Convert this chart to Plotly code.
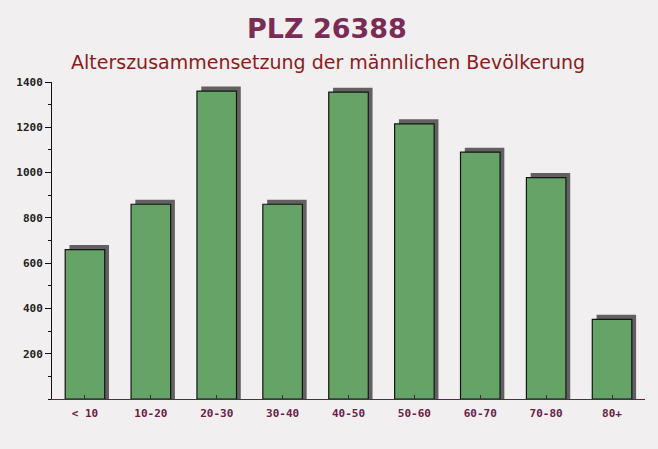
import plotly.graph_objects as go

# age groups and male population counts
age_groups = ["< 10", "10-20", "20-30", "30-40", "40-50", "50-60", "60-70", "70-80", "80+"]
males = [660, 860, 1360, 860, 1355, 1215, 1090, 978, 352]
y_ticks = [200, 400, 600, 800, 1000, 1200, 1400]

pos = list(range(len(age_groups)))

W, H = 658, 449
M_L, M_R, M_T, M_B = 52, 13, 82, 50
plot_h = H - M_T - M_B
plot_w = W - M_L - M_R


def py(pix):
    # pixel row -> paper y
    return (H - M_B - pix) / plot_h


def px_(pix):
    # pixel column -> paper x
    return (pix - M_L) / plot_w


fig = go.Figure()

# shadow behind the bars (3d look)
fig.add_trace(go.Bar(
    x=pos, y=[v + 20 for v in males],
    width=0.6, offset=-0.3 + 0.065,
    marker=dict(color="#626061", line=dict(width=0)),
    hoverinfo="skip", showlegend=False,
))

fig.add_trace(go.Bar(
    x=pos, y=males,
    width=0.6, offset=-0.3,
    marker=dict(color="#66a366", line=dict(color="#151515", width=1.2)),
    showlegend=False,
))

fig.update_layout(
    width=W, height=H,
    margin=dict(l=M_L, r=M_R, t=M_T, b=M_B),
    paper_bgcolor="#f2eff0",
    plot_bgcolor="rgba(0,0,0,0)",
    barmode="overlay",
    annotations=[
        dict(text="<b>PLZ 26388</b>", x=px_(327), y=py(29), xref="paper", yref="paper",
             yanchor="middle", showarrow=False,
             font=dict(family="DejaVu Sans", size=27, color="#7b2c55")),
        dict(text="Alterszusammensetzung der männlichen Bevölkerung", x=px_(328), y=py(62),
             xref="paper", yref="paper", yanchor="middle", showarrow=False,
             font=dict(family="DejaVu Sans", size=19, color="#8b1c1c")),
    ],
)

fig.update_xaxes(
    range=[-0.5, 8.5],
    tickmode="array", tickvals=pos, ticktext=["<b>%s</b>" % t for t in age_groups],
    showgrid=False, zeroline=False,
    showline=True, linecolor="#6b2048", linewidth=1,
    ticks="inside", tickson="boundaries", ticklen=4, tickcolor="#333333",
    ticklabelstandoff=4,
    tickfont=dict(family="DejaVu Sans Mono", size=11, color="#6b2048"),
)
fig.update_yaxes(
    range=[0, 1400],
    tickmode="array", tickvals=y_ticks,
    ticktext=["<b>%d</b>" % t for t in y_ticks],
    showgrid=False, zeroline=False,
    showline=True, linecolor="#111111", linewidth=1,
    ticks="outside", ticklen=6, tickcolor="#111111",
    minor=dict(dtick=100, ticks="outside", ticklen=3, tickcolor="#111111"),
    tickfont=dict(family="DejaVu Sans Mono", size=11, color="#222222"),
)

fig.write_html("out.html", config={"displayModeBar": False},
               post_script="document.body.style.margin='0';")
